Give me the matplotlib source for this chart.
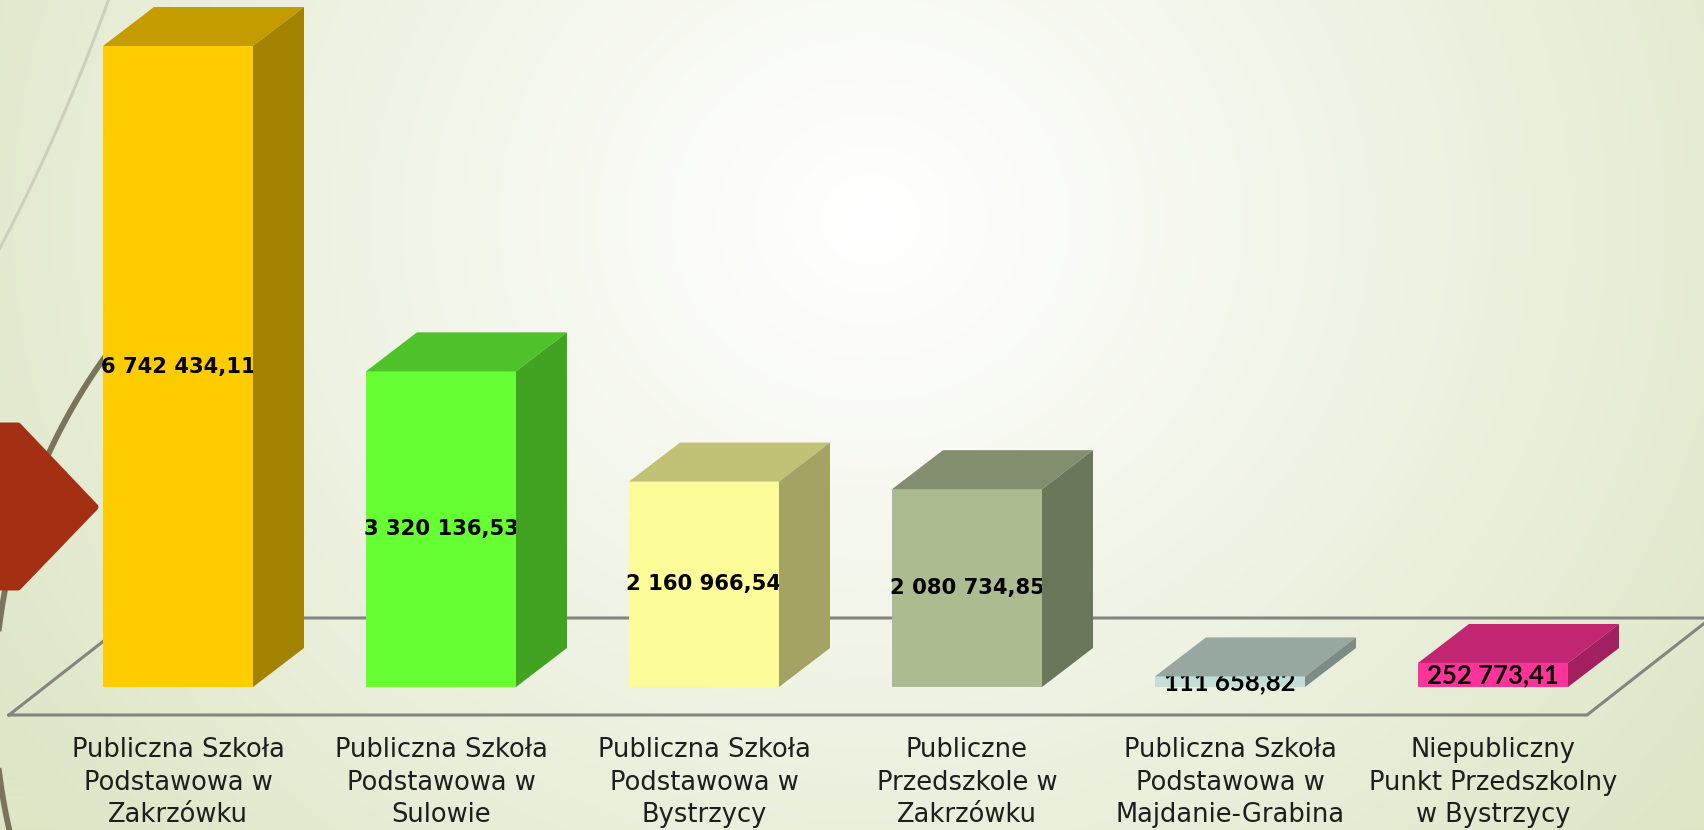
import numpy as np
import matplotlib
matplotlib.use("Agg")
import matplotlib.pyplot as plt
from matplotlib.patches import Polygon

# data
categories = [
    "Publiczna Szkoła\nPodstawowa w\nZakrzówku",
    "Publiczna Szkoła\nPodstawowa w\nSulowie",
    "Publiczna Szkoła\nPodstawowa w\nBystrzycy",
    "Publiczne\nPrzedszkole w\nZakrzówku",
    "Publiczna Szkoła\nPodstawowa w\nMajdanie-Grabina",
    "Niepubliczny\nPunkt Przedszkolny\nw Bystrzycy",
]
values = [6742434.11, 3320136.53, 2160966.54, 2080734.85, 111658.82, 252773.41]
value_labels = ["6 742 434,11", "3 320 136,53", "2 160 966,54", "2 080 734,85",
                "111 658,82", "252 773,41"]

front_colors = ["#FFCC00", "#66FF33", "#FCFC99", "#ADBB91", "#C2DED6", "#FF3399"]
top_colors = ["#C49C00", "#4EC22A", "#C2C276", "#838E6F", "#96A89F", "#C22673"]
side_colors = ["#A38200", "#42A322", "#A3A363", "#6B775B", "#7D8C84", "#A32060"]

W, H = 1704, 830
fig = plt.figure(figsize=(W / 100, H / 100), dpi=100)

# background in pixel coords
bg = fig.add_axes([0, 0, 1, 1])
bg.set_xlim(0, W)
bg.set_ylim(H, 0)
bg.axis("off")
yy, xx = np.mgrid[0:H, 0:W]
r = np.sqrt((xx - 870) ** 2 + ((yy - 220) * 1.1) ** 2) / 1050
r = np.clip(r, 0, 1)
c0 = np.array([1.0, 1.0, 1.0])
c1 = np.array([0xDD, 0xE6, 0xC6]) / 255
img = c0 + (c1 - c0) * (r[..., None] ** 1.1)
bg.imshow(img, extent=[0, W, H, 0], aspect="auto", zorder=0)


def circle_through(p1, p2, p3):
    (x1, y1), (x2, y2), (x3, y3) = p1, p2, p3
    a = np.array([[x2 - x1, y2 - y1], [x3 - x1, y3 - y1]]) * 2
    b = np.array([x2**2 - x1**2 + y2**2 - y1**2, x3**2 - x1**2 + y3**2 - y1**2])
    cx, cy = np.linalg.solve(a, b)
    return cx, cy, np.hypot(x1 - cx, y1 - cy)


# decorative arcs on the left
cx, cy, R = circle_through((112, -10), (40, 167), (-2, 252))
t = np.linspace(0, 2 * np.pi, 2000)
px, py = cx + R * np.cos(t), cy + R * np.sin(t)
m = (py > -20) & (py < 260) & (px < 200)
bg.plot(px[m], py[m], color="#CDCFBD", lw=2.2, zorder=1)

cx, cy, R = circle_through((110, 350), (48, 455), (2, 607))
px, py = cx + R * np.cos(t), cy + R * np.sin(t)
m = (py > 330) & (px < 200)
bg.plot(px[m], py[m], color="#7A745C", lw=4.2, zorder=1)

# floor
floor_x = [9, 1587, 1711, 133, 9]
floor_y = [715, 715, 618, 618, 715]
bg.plot(floor_x, floor_y, color="#85857F", lw=2.2, zorder=2)

# red arrow shape
arrow = Polygon([(-20, 426), (18, 426), (95, 507), (18, 587), (-20, 587)],
                closed=True, facecolor="#A52F12", edgecolor="#A52F12",
                lw=5, joinstyle="round", zorder=3)
bg.add_patch(arrow)

# data axes
L, Rr = 46.5, 1624.5
bottom_px = 687
ax = fig.add_axes([L / W, (H - bottom_px) / H, (Rr - L) / W, bottom_px / H])
ax.patch.set_alpha(0)
n = len(values)
ax.set_xlim(-0.5, n - 0.5)
ymax = bottom_px / 641 * values[0]
ax.set_ylim(0, ymax)
for s in ax.spines.values():
    s.set_visible(False)
ax.set_yticks([])

bw = 150 / 263
dx, dy = 51, 39
x = np.arange(n)
ax.bar(x, values, width=bw, color=front_colors, zorder=5)

for i, v in enumerate(values):
    x0, x1 = i - bw / 2, i + bw / 2
    pts = ax.transData.transform([(x0, v), (x1, v), (x1, 0)])
    (ax0, ay0), (ax1, ay1), (bx1, by1) = pts
    top = Polygon([(ax0, ay0), (ax1, ay1), (ax1 + dx, ay1 + dy), (ax0 + dx, ay0 + dy)],
                  closed=True, transform=None, facecolor=top_colors[i],
                  edgecolor="none", zorder=4)
    side = Polygon([(ax1, ay1), (bx1, by1), (bx1 + dx, by1 + dy), (ax1 + dx, ay1 + dy)],
                   closed=True, transform=None, facecolor=side_colors[i],
                   edgecolor="none", zorder=4)
    fig.add_artist(top)
    fig.add_artist(side)

for i, v in enumerate(values):
    if i < 4:
        ax.text(i, v / 2, value_labels[i], ha="center", va="center",
                fontsize=15.2, fontweight="bold", family="DejaVu Sans",
                color="black", zorder=6)
    else:
        ax.text(i, v / 2, value_labels[i], ha="center", va="center",
                fontsize=18.5, fontweight="bold", family="Lato",
                color="black", zorder=6)

ax.set_xticks(x)
ax.set_xticklabels(categories, fontsize=18.5, family="DejaVu Sans",
                   color="#1E1E1E", linespacing=1.33)
ax.tick_params(axis="x", length=0, pad=36)

fig.savefig("out.png", dpi=100)
